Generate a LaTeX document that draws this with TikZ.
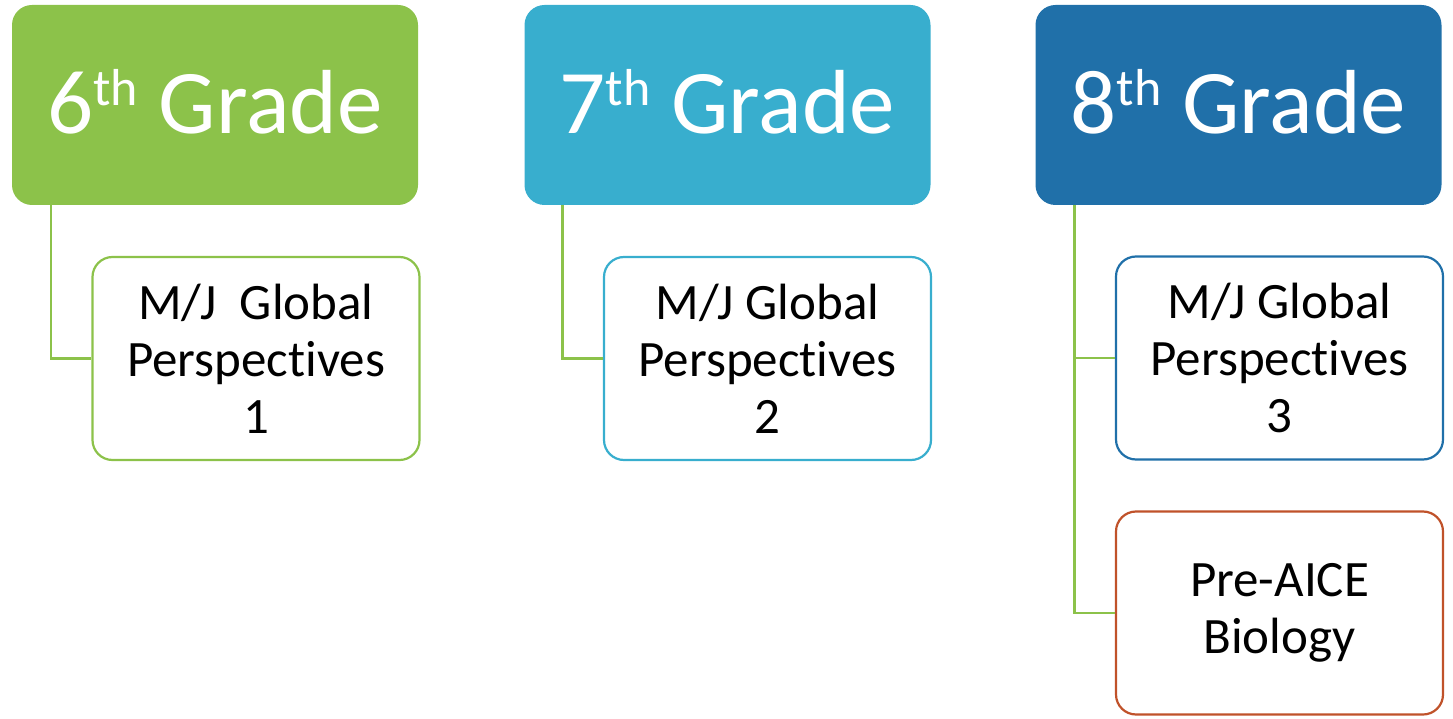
\documentclass[tikz,border=0pt]{standalone}
\usepackage{fontspec}
\setmainfont[Ligatures={NoCommon,NoRequired,NoContextual}]{Carlito}
% keep t and i apart
\newcommand{\persp}{Perspec\kern0pt t\kern0pt ives}

\begin{document}
\begin{tikzpicture}[x=1pt, y=-1pt,
    %Option for the boxes
    grade/.style={fill=#1, text=white, rounded corners=20pt,
        minimum width=406pt, minimum height=200pt, inner sep=0pt,
        text height=66pt, text depth=8pt,
        font=\fontsize{91}{96}\selectfont},
    course/.style={draw=#1, fill=white, line width=2.2pt, rounded corners=20pt,
        minimum width=327pt, minimum height=203pt, inner sep=0pt,
        align=center, font=\fontsize{51}{57}\selectfont},
    link/.style={draw=linkgreen, line width=2.6pt},
]
    % Colors
    \definecolor{gradegreen}{HTML}{8CC24A}
    \definecolor{gradecyan}{HTML}{38AECE}
    \definecolor{gradeblue}{HTML}{2070A9}
    \definecolor{aicered}{HTML}{C0522A}
    \definecolor{linkgreen}{HTML}{8CC24A}
    \newcommand{\nth}[1]{\raisebox{28pt}{\fontsize{52}{52}\selectfont #1}}

    \useasboundingbox (0,0) rectangle (1453,719);

    % Grades
    \node[grade=gradegreen] (g6) at (215,105)    {6\nth{th} Grade};
    \node[grade=gradecyan]  (g7) at (727.5,105)  {7\nth{th} Grade};
    \node[grade=gradeblue]  (g8) at (1238.5,105) {8\nth{th} Grade};

    % Courses
    \node[course=gradegreen] (c6)   at (256,358.5)  {M/J~~Global\\\persp\\1};
    \node[course=gradecyan]  (c7)   at (767.5,358.5) {M/J Global\\\persp\\2};
    \node[course=gradeblue]  (c8)   at (1279.5,358) {M/J Global\\\persp\\3};
    \node[course=aicered]    (bio)  at (1279.5,613) {Pre-AICE\\Biology};

    % Links
    \draw[link] ([xshift=39pt]g6.south west) |- (c6.west);
    \draw[link] ([xshift=38pt]g7.south west) |- (c7.west);
    \draw[link] ([xshift=39pt]g8.south west) |- (c8.west);
    \draw[link] ([xshift=39pt]g8.south west) |- (bio.west);
\end{tikzpicture}
\end{document}
